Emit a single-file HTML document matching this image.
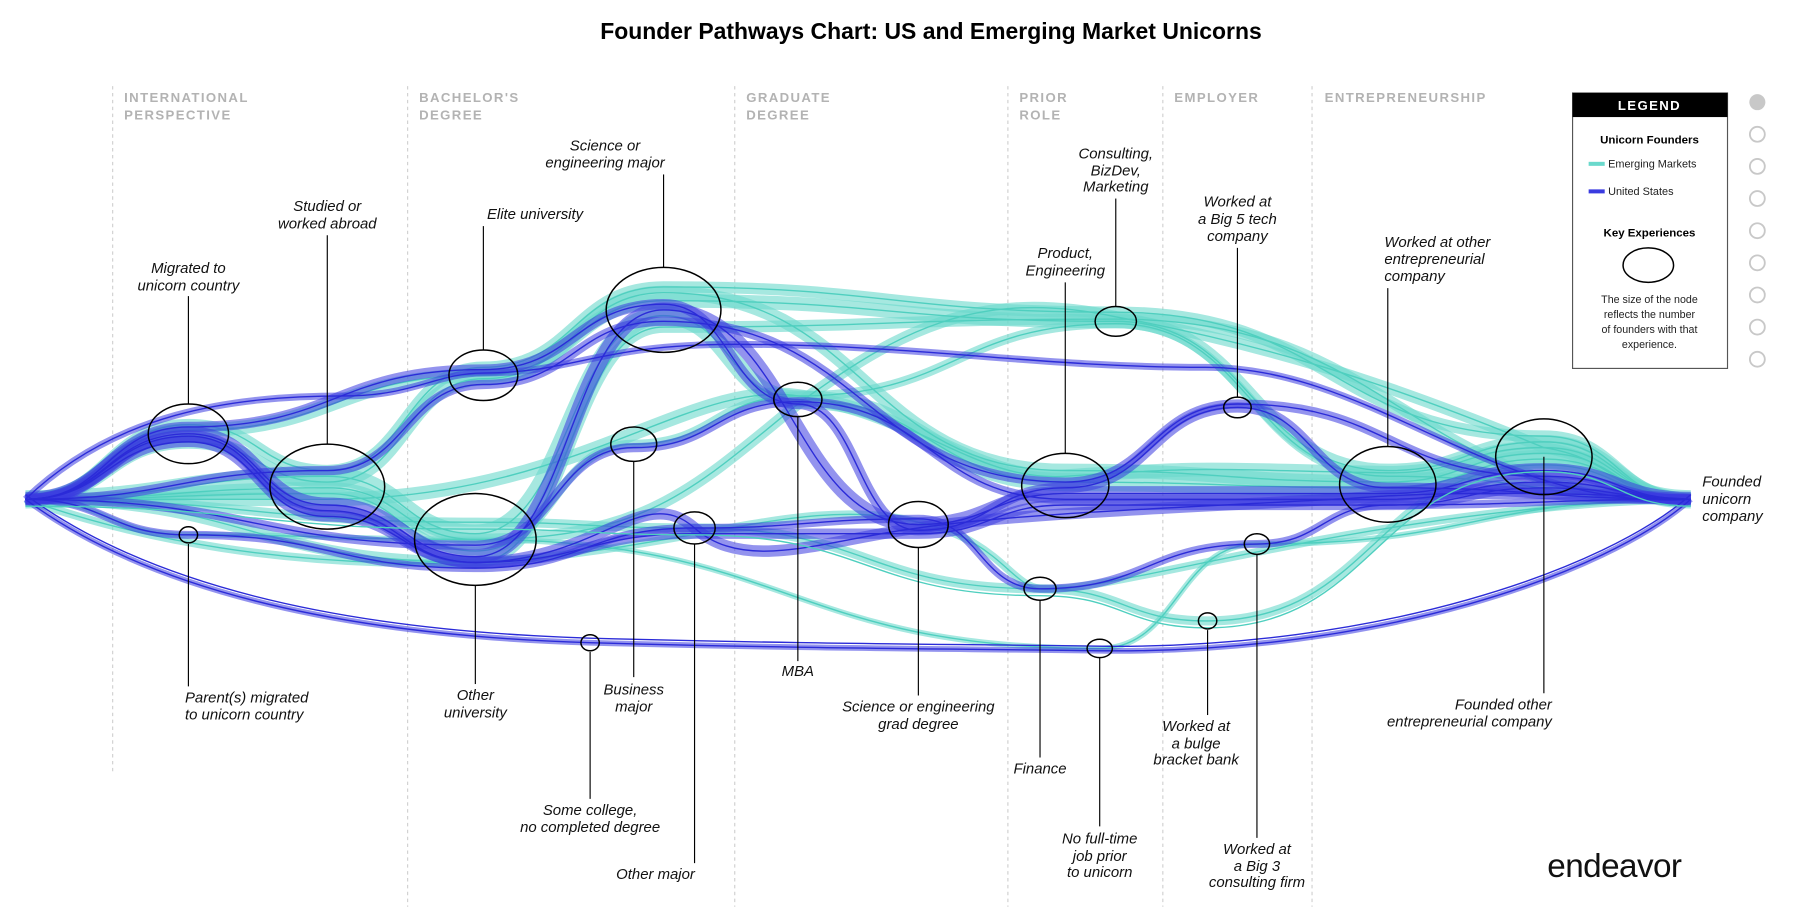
<!DOCTYPE html>
<html><head><meta charset="utf-8">
<style>
html,body{margin:0;padding:0;background:#fff;}
svg{display:block;}
text{font-family:"Liberation Sans",sans-serif;}
.lab{font-style:italic;font-size:13px;fill:#111;}
.hd{font-size:11.5px;font-weight:bold;fill:#b3b3b3;letter-spacing:1.2px;}
.tw{stroke:#6ad9cc;stroke-opacity:.6;fill:none;}
.tt{stroke:#4fcfbf;stroke-width:1.2;fill:none;}
.bw{stroke:#3a3be0;stroke-opacity:.55;fill:none;}
.bt{stroke:#2b2bd8;stroke-width:1.2;fill:none;}
</style></head><body>
<svg width="1800" height="909" viewBox="0 0 1568 792" xmlns="http://www.w3.org/2000/svg" xmlns:xlink="http://www.w3.org/1999/xlink">
<rect width="1568" height="792" fill="#fff"/>
<text x="811" y="34" text-anchor="middle" font-size="20" font-weight="bold" fill="#000">Founder Pathways Chart: US and Emerging Market Unicorns</text>
<g stroke="#d0d0d0" stroke-width="1" stroke-dasharray="3,3">
<line x1="98" y1="75" x2="98" y2="675"/><line x1="355" y1="75" x2="355" y2="790"/><line x1="640" y1="75" x2="640" y2="790"/><line x1="878" y1="75" x2="878" y2="790"/><line x1="1013" y1="75" x2="1013" y2="790"/><line x1="1143" y1="75" x2="1143" y2="790"/>
</g>
<g class="hd">
<text x="108" y="89">INTERNATIONAL</text><text x="108" y="104">PERSPECTIVE</text>
<text x="365" y="89">BACHELOR'S</text><text x="365" y="104">DEGREE</text>
<text x="650" y="89">GRADUATE</text><text x="650" y="104">DEGREE</text>
<text x="888" y="89">PRIOR</text><text x="888" y="104">ROLE</text>
<text x="1023" y="89">EMPLOYER</text>
<text x="1154" y="89">ENTREPRENEURSHIP</text>
</g>
<defs>
<path id="t1" d="M22,435 C93,435 93,375 164,375 C292,375 292,327 421,327 C500,327 500,262 578,262 C775,262 775,280 972,280 C1090,280 1090,410 1209,410 C1277,410 1277,385 1345,385 C1409,385 1409,435 1473,435"/>
<path id="t2" d="M22,435 C153,435 153,415 285,415 C350,415 350,465 414,465 C496,465 496,275 578,275 C636,275 636,348 695,348 C811,348 811,420 928,420 C1068,420 1068,425 1209,425 C1277,425 1277,400 1345,400 C1409,400 1409,435 1473,435"/>
<path id="t3" d="M22,435 C153,435 153,430 285,430 C350,430 350,480 414,480 C483,480 483,387 552,387 C623,387 623,345 695,345 C833,345 833,282 972,282 C1090,282 1090,415 1209,415 C1341,415 1341,435 1473,435"/>
<path id="t4" d="M22,435 C218,435 218,455 414,455 C510,455 510,460 605,460 C755,460 755,513 906,513 C979,513 979,541 1052,541 C1198,541 1198,405 1345,405 C1409,405 1409,435 1473,435"/>
<path id="t5" d="M22,435 C93,435 93,385 164,385 C225,385 225,420 285,420 C353,420 353,330 421,330 C500,330 500,255 578,255 C753,255 753,410 928,410 C1068,410 1068,420 1209,420 C1277,420 1277,395 1345,395 C1409,395 1409,435 1473,435"/>
<path id="t6" d="M22,435 C218,435 218,490 414,490 C496,490 496,285 578,285 C775,285 775,278 972,278 C1222,278 1222,435 1473,435"/>
<path id="t7" d="M22,435 C93,435 93,466 164,466 C289,466 289,470 414,470 C686,470 686,565 958,565 C1026,565 1026,474 1095,474 C1284,474 1284,435 1473,435"/>
<path id="t8" d="M22,435 C153,435 153,425 285,425 C350,425 350,470 414,470 C560,470 600,430 695,352 C780,290 850,250 972,276 C1100,300 1200,330 1345,390 C1409,400 1409,435 1473,435"/>
<path id="t9" d="M22,435 C120,470 250,495 414,490 C600,480 700,430 800,455 C870,470 880,510 906,513 C960,520 1200,440 1473,435"/>
<path id="t10" d="M22,435 C93,435 93,370 164,370 C225,370 225,410 285,410 C353,410 353,320 421,320 C500,320 500,250 578,250 C775,250 775,272 972,272 C1160,272 1160,380 1345,380 C1409,380 1409,435 1473,435"/>
<path id="t11" d="M22,435 C153,435 153,435 285,435 C500,435 600,330 695,345 C800,360 850,420 928,415 C1068,405 1068,410 1209,412 C1277,412 1277,390 1345,390 C1409,390 1409,435 1473,435"/>
<path id="b1" d="M22,435 C93,435 93,378 164,378 C225,378 225,440 285,440 C350,440 350,485 414,485 C496,485 496,270 578,270 C689,270 689,457 800,457 C864,457 864,430 928,430 C1068,430 1068,430 1209,430 C1277,430 1277,410 1345,410 C1409,410 1409,435 1473,435"/>
<path id="b2" d="M22,435 C93,435 93,372 164,372 C292,372 292,322 421,322 C500,322 500,265 578,265 C636,265 636,352 695,352 C747,352 747,462 800,462 C864,462 864,425 928,425 C1003,425 1003,355 1078,355 C1143,355 1143,425 1209,425 C1341,425 1341,435 1473,435"/>
<path id="b3" d="M22,435 C218,435 218,475 414,475 C483,475 483,390 552,390 C623,390 623,350 695,350 C811,350 811,435 928,435 C1068,435 1068,435 1209,435 C1277,435 1277,420 1345,420 C1409,420 1409,435 1473,435"/>
<path id="b4" d="M22,435 C100,360 200,345 300,345 C360,345 380,325 421,325 C500,325 520,300 640,300 C800,300 900,320 1050,320 C1200,320 1300,445 1473,435"/>
<path id="b5" d="M22,435 C150,530 350,555 514,560 C700,565 800,565 958,567 C1200,570 1400,500 1473,435"/>
<path id="b6" d="M22,435 C93,435 93,466 164,466 C289,466 289,495 414,495 C510,495 510,460 605,460 C703,460 703,452 800,452 C853,452 853,513 906,513 C1000,513 1000,474 1095,474 C1152,474 1152,440 1209,440 C1341,440 1341,435 1473,435"/>
<path id="b7" d="M22,435 C153,435 153,410 285,410 C353,410 353,335 421,335 C500,335 500,280 578,280 C753,280 753,420 928,420 C1003,420 1003,352 1078,352 C1211,352 1211,415 1345,415 C1409,415 1409,435 1473,435"/>
<path id="b8" d="M22,435 C93,435 93,380 164,380 C225,380 225,445 285,445 C350,445 350,490 414,490 C520,490 560,420 605,460 C650,500 720,470 800,460 C900,445 1100,440 1209,432 C1300,428 1400,430 1473,435"/>
<path id="b9" d="M22,435 C93,435 93,385 164,385 C225,385 225,450 285,450 C350,450 350,490 414,490 C510,490 510,465 605,465 C703,465 703,465 800,465 C864,465 864,440 928,440 C1068,440 1068,440 1209,440 C1277,440 1277,425 1345,425 C1409,425 1409,435 1473,435"/>
</defs>
<g>
<use xlink:href="#t1" class="tw" stroke-width="12"/><use xlink:href="#t2" class="tw" stroke-width="16"/><use xlink:href="#t3" class="tw" stroke-width="8"/>
<use xlink:href="#t4" class="tw" stroke-width="8"/><use xlink:href="#t5" class="tw" stroke-width="12"/><use xlink:href="#t6" class="tw" stroke-width="10"/>
<use xlink:href="#t7" class="tw" stroke-width="5"/><use xlink:href="#t8" class="tw" stroke-width="10"/><use xlink:href="#t9" class="tw" stroke-width="7"/>
<use xlink:href="#t10" class="tw" stroke-width="10"/><use xlink:href="#t11" class="tw" stroke-width="12"/>
<use xlink:href="#t1" class="tt"/><use xlink:href="#t2" class="tt"/><use xlink:href="#t3" class="tt"/><use xlink:href="#t4" class="tt"/><use xlink:href="#t5" class="tt"/><use xlink:href="#t6" class="tt"/><use xlink:href="#t7" class="tt"/><use xlink:href="#t8" class="tt"/><use xlink:href="#t9" class="tt"/><use xlink:href="#t10" class="tt"/><use xlink:href="#t11" class="tt"/>
<use xlink:href="#b1" class="bw" stroke-width="13"/><use xlink:href="#b2" class="bw" stroke-width="9"/><use xlink:href="#b3" class="bw" stroke-width="8"/>
<use xlink:href="#b4" class="bw" stroke-width="6"/><use xlink:href="#b5" class="bw" stroke-width="5"/><use xlink:href="#b6" class="bw" stroke-width="7"/>
<use xlink:href="#b7" class="bw" stroke-width="8"/><use xlink:href="#b8" class="bw" stroke-width="10"/><use xlink:href="#b9" class="bw" stroke-width="9"/>
<use xlink:href="#b1" class="bt"/><use xlink:href="#b2" class="bt"/><use xlink:href="#b3" class="bt"/><use xlink:href="#b4" class="bt"/><use xlink:href="#b5" class="bt"/><use xlink:href="#b6" class="bt"/><use xlink:href="#b7" class="bt"/><use xlink:href="#b8" class="bt"/><use xlink:href="#b9" class="bt"/>
<use xlink:href="#b5" class="bt" transform="translate(0,-4)"/><use xlink:href="#t4" class="tt" transform="translate(0,6)"/>
</g>
<g fill="none" stroke="#000" stroke-width="1.3">
<ellipse cx="164" cy="378" rx="35" ry="26"/><ellipse cx="164" cy="466" rx="8" ry="7"/><ellipse cx="285" cy="424" rx="50" ry="37"/>
<ellipse cx="421" cy="327" rx="30" ry="22"/><ellipse cx="414" cy="470" rx="53" ry="40"/><ellipse cx="514" cy="560" rx="8" ry="7"/>
<ellipse cx="578" cy="270" rx="50" ry="37"/><ellipse cx="552" cy="387" rx="20" ry="15"/><ellipse cx="605" cy="460" rx="18" ry="14"/>
<ellipse cx="695" cy="348" rx="21" ry="15"/><ellipse cx="800" cy="457" rx="26" ry="20"/><ellipse cx="928" cy="423" rx="38" ry="28"/>
<ellipse cx="972" cy="280" rx="18" ry="13"/><ellipse cx="906" cy="513" rx="14" ry="10"/><ellipse cx="958" cy="565" rx="11" ry="8"/>
<ellipse cx="1078" cy="355" rx="12" ry="9"/><ellipse cx="1052" cy="541" rx="8" ry="7"/><ellipse cx="1095" cy="474" rx="11" ry="9"/>
<ellipse cx="1209" cy="422" rx="42" ry="33"/><ellipse cx="1345" cy="398" rx="42" ry="33"/>
</g>
<g stroke="#000" stroke-width="1">
<line x1="164" y1="258" x2="164" y2="352"/><line x1="164" y1="474" x2="164" y2="598"/>
<line x1="285" y1="205" x2="285" y2="387"/><line x1="421" y1="197" x2="421" y2="305"/>
<line x1="414" y1="510" x2="414" y2="596"/><line x1="514" y1="568" x2="514" y2="696"/>
<line x1="578" y1="152" x2="578" y2="233"/><line x1="552" y1="402" x2="552" y2="590"/>
<line x1="605" y1="474" x2="605" y2="752"/><line x1="695" y1="363" x2="695" y2="576"/>
<line x1="800" y1="477" x2="800" y2="606"/><line x1="928" y1="246" x2="928" y2="395"/>
<line x1="972" y1="173" x2="972" y2="267"/><line x1="906" y1="523" x2="906" y2="660"/>
<line x1="958" y1="573" x2="958" y2="720"/><line x1="1078" y1="216" x2="1078" y2="346"/>
<line x1="1052" y1="549" x2="1052" y2="623"/><line x1="1095" y1="483" x2="1095" y2="730"/>
<line x1="1209" y1="251" x2="1209" y2="389"/><line x1="1345" y1="398" x2="1345" y2="604"/>
</g>
<g class="lab" text-anchor="middle">
<text x="164" y="238">Migrated to</text><text x="164" y="253">unicorn country</text>
<text x="285" y="184">Studied or</text><text x="285" y="199">worked abroad</text>
<text x="466" y="191">Elite university</text>
<text x="527" y="131">Science or</text><text x="527" y="146">engineering major</text>
<text x="972" y="138">Consulting,</text><text x="972" y="153">BizDev,</text><text x="972" y="167">Marketing</text>
<text x="928" y="225">Product,</text><text x="928" y="240">Engineering</text>
<text x="1078" y="180">Worked at</text><text x="1078" y="195">a Big 5 tech</text><text x="1078" y="210">company</text>
<text x="414" y="610">Other</text><text x="414" y="625">university</text>
<text x="552" y="605">Business</text><text x="552" y="620">major</text>
<text x="695" y="589">MBA</text>
<text x="800" y="620">Science or engineering</text><text x="800" y="635">grad degree</text>
<text x="906" y="674">Finance</text>
<text x="1042" y="637">Worked at</text><text x="1042" y="652">a bulge</text><text x="1042" y="666">bracket bank</text>
<text x="514" y="710">Some college,</text><text x="514" y="725">no completed degree</text>
<text x="571" y="766">Other major</text>
<text x="958" y="735">No full-time</text><text x="958" y="750">job prior</text><text x="958" y="764">to unicorn</text>
<text x="1095" y="744">Worked at</text><text x="1095" y="759">a Big 3</text><text x="1095" y="773">consulting firm</text>
</g>
<g class="lab">
<text x="1206" y="215">Worked at other</text><text x="1206" y="230">entrepreneurial</text><text x="1206" y="245">company</text>
<text x="1483" y="424">Founded</text><text x="1483" y="439">unicorn</text><text x="1483" y="454">company</text>
<text x="161" y="612">Parent(s) migrated</text><text x="161" y="627">to unicorn country</text>
<text x="1352" y="618" text-anchor="end">Founded other</text><text x="1352" y="633" text-anchor="end">entrepreneurial company</text>
</g>
<rect x="1370" y="81" width="135" height="240" fill="#fff" stroke="#555" stroke-width="1"/>
<rect x="1370" y="81" width="135" height="21" fill="#000"/>
<text x="1437" y="96" text-anchor="middle" font-size="11.5" font-weight="bold" fill="#fff" letter-spacing="1.2">LEGEND</text>
<text x="1437" y="125" text-anchor="middle" font-size="10" font-weight="bold">Unicorn Founders</text>
<rect x="1384" y="141" width="14" height="3.5" fill="#6ad9cc"/><text x="1401" y="146" font-size="9.5" fill="#222">Emerging Markets</text>
<rect x="1384" y="165" width="14" height="3.5" fill="#3a3be0"/><text x="1401" y="170" font-size="9.5" fill="#222">United States</text>
<text x="1437" y="206" text-anchor="middle" font-size="10" font-weight="bold">Key Experiences</text>
<ellipse cx="1436" cy="231" rx="22" ry="15" fill="none" stroke="#000" stroke-width="1.3"/>
<g font-size="9.3" fill="#222" text-anchor="middle">
<text x="1437" y="264">The size of the node</text><text x="1437" y="277">reflects the number</text><text x="1437" y="290">of founders with that</text><text x="1437" y="303">experience.</text>
</g>
<circle cx="1531" cy="89" r="7" fill="#c8c8c8"/>
<g fill="none" stroke="#c8c8c8" stroke-width="1.6">
<circle cx="1531" cy="117" r="6.5"/><circle cx="1531" cy="145" r="6.5"/><circle cx="1531" cy="173" r="6.5"/><circle cx="1531" cy="201" r="6.5"/><circle cx="1531" cy="229" r="6.5"/><circle cx="1531" cy="257" r="6.5"/><circle cx="1531" cy="285" r="6.5"/><circle cx="1531" cy="313" r="6.5"/>
</g>
<text x="1348" y="764" font-size="29" fill="#111" letter-spacing="-0.5">endeavor</text>
</svg>
</body></html>
